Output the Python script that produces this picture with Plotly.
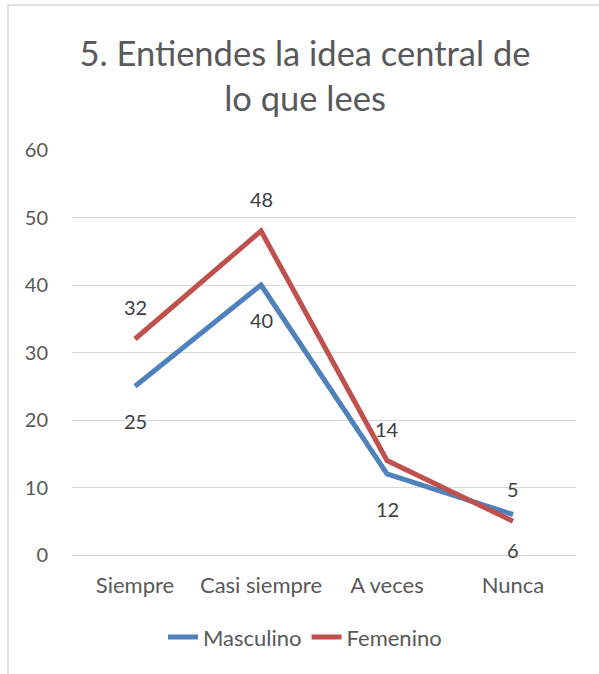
import plotly.graph_objects as go

# survey answers per category
categorias = ["Siempre", "Casi siempre", "A veces", "Nunca"]
masculino = [25, 40, 12, 6]
femenino = [32, 48, 14, 5]

font_family = "Lato, 'Open Sans', sans-serif"
label_color = "#404040"

fig = go.Figure()
fig.add_trace(
    go.Scatter(
        x=categorias,
        y=masculino,
        name="Masculino",
        mode="lines",
        line=dict(color="#4F81BD", width=5),
    )
)
fig.add_trace(
    go.Scatter(
        x=categorias,
        y=femenino,
        name="Femenino",
        mode="lines",
        line=dict(color="#C0504D", width=5),
    )
)

# data labels: Masculino below the line, Femenino above it
for cat, val in zip(categorias, masculino):
    fig.add_annotation(
        x=cat, y=val, text=str(val), showarrow=False,
        yshift=-35, font=dict(size=20, color=label_color),
    )
for cat, val in zip(categorias, femenino):
    fig.add_annotation(
        x=cat, y=val, text=str(val), showarrow=False,
        yshift=32, font=dict(size=20, color=label_color),
    )

fig.update_layout(
    width=599,
    height=674,
    paper_bgcolor="white",
    plot_bgcolor="white",
    font=dict(family=font_family, color="#595959", size=17),
    margin=dict(l=72, r=23, t=150, b=119, autoexpand=False),
    title=dict(
        text="5. Entiendes la idea central de<br>lo que lees",
        x=305 / 599,
        xanchor="center",
        y=1 - 66 / 674,
        yanchor="middle",
        font=dict(size=34.5, color="#595959"),
    ),
    legend=dict(
        orientation="h",
        x=(305 - 72) / 504,
        xanchor="center",
        y=-0.203,
        yanchor="middle",
        font=dict(size=22, color="#595959"),
        itemwidth=30,
    ),
    showlegend=True,
)
fig.update_xaxes(
    type="category",
    range=[-0.5, 3.5],
    showgrid=False,
    showline=False,
    ticks="",
    tickangle=0,
    ticklabelstandoff=15,
    tickfont=dict(size=22),
)
fig.update_yaxes(
    range=[0, 60],
    dtick=10,
    showgrid=True,
    gridcolor="#D9D9D9",
    gridwidth=1.3,
    zeroline=True,
    zerolinecolor="#D9D9D9",
    zerolinewidth=1.3,
    showline=False,
    ticks="",
    ticklabelstandoff=23,
    tickfont=dict(size=20),
)
# outer chart frame (only left and top edges visible in the crop)
fig.add_shape(
    type="rect",
    xref="paper",
    yref="paper",
    x0=-64 / 504,
    x1=1.2,
    y0=-0.5,
    y1=1 + 145 / 405,
    line=dict(color="#D9D9D9", width=1.5),
    fillcolor="rgba(0,0,0,0)",
    layer="below",
)

fig.write_html(
    "out.html",
    config={"displayModeBar": False},
    post_script="document.body.style.margin='0';document.body.style.overflow='hidden';",
)
